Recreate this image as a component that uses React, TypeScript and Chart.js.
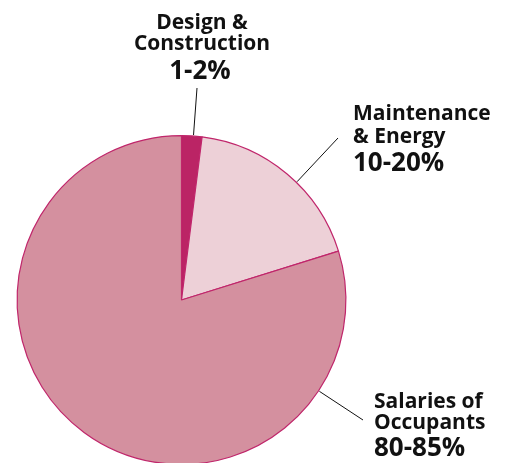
import React, { useEffect, useRef } from "react";
import { Chart, registerables } from "chart.js";

Chart.register(...registerables);

const categories = ["Design & Construction", "Maintenance & Energy", "Salaries of Occupants"];
const shares = [2, 18.2, 79.8];
const rangeLabels = ["1-2%", "10-20%", "80-85%"];
const nameLines = [["Design &", "Construction"], ["Maintenance", "& Energy"], ["Salaries of", "Occupants"]];
const colors = ["#bb2465", "#edd0d7", "#d4909f"];

const labelPlugin = {
  id: "sliceLabels",
  afterDraw(chart: any) {
    const ctx = chart.ctx;
    const meta = chart.getDatasetMeta(0);
    const arcs = meta.data;
    ctx.save();
    ctx.fillStyle = "#111";
    ctx.strokeStyle = "#111";
    ctx.lineWidth = 1;
    const nameFont = "bold 21px 'Open Sans'";
    const pctFont = "bold 26px 'Open Sans'";
    const draw = (i: number, cfg: any) => {
      const a = arcs[i];
      const ang = cfg.angle;
      const r = a.outerRadius;
      const sx = a.x + Math.cos(ang) * (r + 1);
      const sy = a.y + Math.sin(ang) * (r + 1);
      ctx.beginPath();
      ctx.moveTo(sx, sy);
      ctx.lineTo(cfg.lx, cfg.ly);
      ctx.stroke();
      ctx.textAlign = cfg.align;
      ctx.textBaseline = "alphabetic";
      ctx.font = nameFont;
      nameLines[i].forEach((t, k) => {
        ctx.fillText(t, cfg.tx, cfg.ty + k * cfg.lh);
      });
      ctx.font = pctFont;
      ctx.fillText(rangeLabels[i], cfg.px, cfg.py);
    };
    draw(0, { angle: -1.498, lx: 197, ly: 88, align: "center", tx: 202, ty: 29, lh: 21, px: 200, py: 79 });
    draw(1, { angle: -0.797, lx: 338, ly: 138, align: "left", tx: 353, ty: 120, lh: 23, px: 353, py: 171 });
    draw(2, { angle: 0.585, lx: 363, ly: 420, align: "left", tx: 374, ty: 408, lh: 21, px: 374, py: 456 });
    ctx.restore();
  },
};

export default function App() {
  const ref = useRef<HTMLCanvasElement>(null);
  useEffect(() => {
    document.body.style.margin = "0";
    const chart = new Chart(ref.current!, {
      type: "pie",
      data: {
        labels: categories,
        datasets: [
          {
            data: shares,
            backgroundColor: colors,
            borderColor: "#c0266b",
            borderWidth: 1.2,
          },
        ],
      },
      options: {
        responsive: false,
        animation: false,
        layout: { padding: { left: 16, right: 161, top: 135, bottom: 35 } },
        plugins: { legend: { display: false }, tooltip: { enabled: false } },
      },
      plugins: [labelPlugin],
    });
    return () => chart.destroy();
  }, []);
  return (
    <div style={{ position: "fixed", left: 0, top: 0, width: 508, height: 463, overflow: "hidden", background: "#fff" }}>
      <canvas ref={ref} width={508} height={500} style={{ width: 508, height: 500, display: "block" }} />
    </div>
  );
}
